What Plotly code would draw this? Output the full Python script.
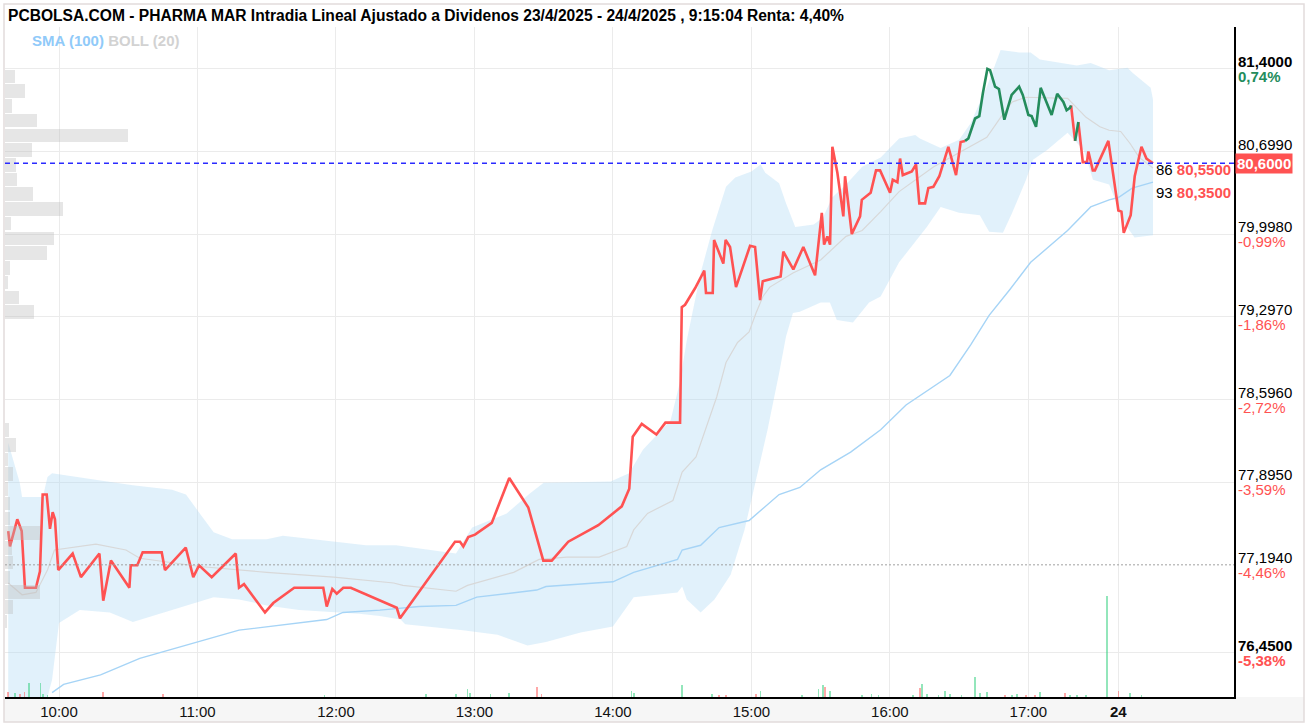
import plotly.graph_objects as go

# ---------------- data ----------------
PREV_CLOSE = 80.80
LAST_PRICE = 80.60
SESSION2_OFFSET = 519  # axis minutes at which the 24/4 session (09:00) starts

price_times = [
    "23 09:38:00", "23 09:38:45", "23 09:41:55", "23 09:43:50", "23 09:45:15", "23 09:50:00",
    "23 09:51:45", "23 09:52:55", "23 09:54:40", "23 09:56:05", "23 09:57:15", "23 09:58:15",
    "23 09:59:40", "23 10:05:55", "23 10:09:30", "23 10:17:30", "23 10:19:10", "23 10:22:30",
    "23 10:30:30", "23 10:31:05", "23 10:33:55", "23 10:36:15", "23 10:44:30", "23 10:45:55",
    "23 10:54:55", "23 10:58:10", "23 11:00:40", "23 11:06:10", "23 11:16:35", "23 11:18:00",
    "23 11:20:10", "23 11:29:15", "23 11:32:50", "23 11:41:55", "23 11:54:30", "23 11:56:00",
    "23 11:58:25", "23 12:00:20", "23 12:03:10", "23 12:06:25", "23 12:26:20", "23 12:27:45",
    "23 12:51:35", "23 12:53:45", "23 12:55:10", "23 12:57:20", "23 13:00:15", "23 13:07:30",
    "23 13:15:05", "23 13:23:20", "23 13:29:50", "23 13:33:30", "23 13:40:40", "23 13:53:40",
    "23 14:03:50", "23 14:07:05", "23 14:08:35", "23 14:12:30", "23 14:18:50", "23 14:22:45",
    "23 14:29:05", "23 14:29:50", "23 14:31:15", "23 14:35:35", "23 14:39:35", "23 14:40:20",
    "23 14:43:15", "23 14:43:50", "23 14:47:50", "23 14:48:50", "23 14:50:45", "23 14:53:20",
    "23 14:59:25", "23 15:01:35", "23 15:03:45", "23 15:04:55", "23 15:12:40", "23 15:13:50",
    "23 15:18:10", "23 15:22:30", "23 15:27:35", "23 15:30:30", "23 15:31:30", "23 15:32:55",
    "23 15:34:05", "23 15:35:05", "23 15:37:15", "23 15:39:50", "23 15:40:35", "23 15:43:30",
    "23 15:47:05", "23 15:47:50", "23 15:51:40", "23 15:54:00", "23 15:55:45", "23 16:00:05",
    "23 16:01:15", "23 16:03:15", "23 16:04:25", "23 16:05:35", "23 16:09:30", "23 16:11:20",
    "23 16:12:45", "23 16:15:15", "23 16:16:40", "23 16:18:50", "23 16:21:25", "23 16:25:20",
    "23 16:28:40", "23 16:30:40", "23 16:32:35", "23 16:34:00", "23 16:36:55", "23 16:38:45",
    "23 16:40:15", "23 16:42:15", "23 16:43:25", "23 16:45:35", "23 16:47:15", "23 16:49:35",
    "23 16:52:45", "23 16:56:00", "23 16:57:35", "23 17:00:00", "23 17:01:25", "23 17:03:20",
    "23 17:05:20", "23 17:07:15", "23 17:10:05", "23 17:12:30", "23 17:15:10", "23 17:16:35",
    "23 17:18:00", "23 17:18:30", "23 17:20:15", "23 17:21:40", "23 17:23:35", "23 17:25:25",
    "23 17:26:00", "23 17:27:55", "23 17:28:50", "23 17:34:40",
    "24 09:00:00", "24 09:01:20", "24 09:02:20", "24 09:05:20", "24 09:07:05", "24 09:10:00",
    "24 09:12:10", "24 09:15:00",
]
price_values = [
    77.48, 77.35, 77.58, 77.48, 77.00, 77.00,
    77.14, 77.79, 77.79, 77.50, 77.64, 77.58,
    77.15, 77.29, 77.09, 77.29, 76.89, 77.23,
    77.00, 77.19, 77.19, 77.30, 77.30, 77.15,
    77.34, 77.09, 77.19, 77.09, 77.29, 77.00,
    77.03, 76.79, 76.87, 77.00, 77.00, 76.84,
    76.99, 76.95, 77.00, 77.00, 76.83, 76.74,
    77.39, 77.39, 77.35, 77.43, 77.45, 77.55,
    77.93, 77.68, 77.23, 77.23, 77.39, 77.53,
    77.69, 77.84, 78.28, 78.39, 78.30, 78.40,
    78.40, 79.38, 79.40, 79.54, 79.69, 79.50,
    79.50, 79.95, 79.75, 79.95, 79.89, 79.55,
    79.90, 79.89, 79.44, 79.60, 79.64, 79.85,
    79.70, 79.89, 79.65, 80.18, 79.91, 79.98,
    79.91, 80.74, 80.52, 80.15, 80.49, 80.00,
    80.15, 80.29, 80.35, 80.54, 80.54, 80.35,
    80.46, 80.44, 80.64, 80.50, 80.53, 80.59,
    80.26, 80.26, 80.39, 80.40, 80.49, 80.74,
    80.50, 80.78, 80.79, 80.81, 80.98, 81.00,
    81.19, 81.40, 81.39, 81.25, 81.23, 80.97,
    81.18, 81.25, 81.18, 81.01, 81.00, 80.91,
    81.24, 81.15, 81.01, 81.19, 81.12, 81.05,
    81.07, 81.09, 80.79, 80.95, 80.61, 80.61,
    80.70, 80.54, 80.54, 80.79,
    80.20, 80.19, 80.01, 80.16, 80.49, 80.74,
    80.64, 80.60,
]

boll_upper_times = [
    "23 09:38", "23 09:43", "23 09:44", "23 09:53", "23 09:55", "23 09:57", "23 10:18", "23 10:32",
    "23 10:49", "23 10:55", "23 11:01", "23 11:07", "23 11:15", "23 11:30", "23 11:37", "23 11:59",
    "23 12:13", "23 12:26", "23 12:48", "23 12:52", "23 12:59", "23 13:14", "23 13:24", "23 13:30",
    "23 13:59", "23 14:07", "23 14:13", "23 14:25", "23 14:29", "23 14:32", "23 14:38", "23 14:43",
    "23 14:49", "23 14:53", "23 15:00", "23 15:04", "23 15:06", "23 15:12", "23 15:15", "23 15:19",
    "23 15:27", "23 15:31", "23 15:35", "23 15:41", "23 15:48", "23 15:56", "23 16:04", "23 16:11",
    "23 16:13", "23 16:22", "23 16:30", "23 16:35", "23 16:42", "23 16:48", "23 16:56", "23 17:01",
    "23 17:05", "23 17:21", "23 17:27", "23 17:35", "24 09:04", "24 09:06", "24 09:14", "24 09:15",
]
boll_upper = [
    78.23, 77.89, 77.77, 77.77, 77.94, 77.97, 77.91, 77.87,
    77.83, 77.79, 77.63, 77.47, 77.41, 77.41, 77.44, 77.39,
    77.36, 77.36, 77.30, 77.29, 77.51, 77.63, 77.80, 77.89,
    77.90, 77.97, 78.17, 78.42, 78.74, 79.10, 79.67, 80.03,
    80.40, 80.48, 80.53, 80.59, 80.52, 80.43, 80.26, 80.06,
    80.08, 80.14, 80.31, 80.42, 80.57, 80.65, 80.81, 80.84,
    80.81, 80.73, 80.80, 80.94, 81.25, 81.56, 81.54, 81.54,
    81.48, 81.43, 81.45, 81.39, 81.41, 81.37, 81.24, 81.14,
]

boll_lower_times = [
    "23 09:38", "23 09:54", "23 09:57", "23 10:00", "23 10:09", "23 10:22", "23 10:32", "23 10:44",
    "23 10:55", "23 11:07", "23 11:18", "23 11:30", "23 11:44", "23 11:59", "23 12:10", "23 12:19",
    "23 12:28", "23 12:30", "23 12:55", "23 13:10", "23 13:23", "23 13:31", "23 13:46", "23 14:00",
    "23 14:09", "23 14:28", "23 14:30", "23 14:32", "23 14:38", "23 14:44", "23 14:51", "23 14:57",
    "23 15:02", "23 15:07", "23 15:12", "23 15:15", "23 15:18", "23 15:21", "23 15:30", "23 15:34",
    "23 15:37", "23 15:44", "23 15:51", "23 15:56", "23 16:04", "23 16:16", "23 16:22", "23 16:30",
    "23 16:39", "23 16:43", "23 16:49", "23 16:53", "23 16:59", "23 17:02", "23 17:08", "23 17:17",
    "23 17:24", "23 17:28", "23 17:35", "24 09:03", "24 09:07", "24 09:15",
]
boll_lower = [
    76.00, 76.00, 76.22, 76.70, 76.81, 76.79, 76.71, 76.78,
    76.85, 76.92, 76.90, 76.85, 76.81, 76.79, 76.78, 76.76,
    76.73, 76.69, 76.64, 76.60, 76.51, 76.54, 76.62, 76.67,
    76.92, 76.96, 77.01, 76.90, 76.79, 76.90, 77.11, 77.49,
    77.91, 78.34, 78.82, 79.13, 79.33, 79.34, 79.42, 79.42,
    79.27, 79.25, 79.42, 79.47, 79.76, 80.06, 80.23, 80.18,
    80.16, 80.02, 80.01, 80.18, 80.46, 80.63, 80.71, 80.86,
    80.71, 80.46, 80.42, 80.08, 79.97, 79.99,
]

boll_mid_times = [
    "23 09:38", "23 09:44", "23 09:50", "23 09:55", "23 09:58", "23 10:16", "23 10:29", "23 10:35",
    "23 11:01", "23 11:30", "23 11:59", "23 12:25", "23 12:29", "23 12:52", "23 12:57", "23 13:17",
    "23 13:28", "23 13:40", "23 13:54", "23 14:06", "23 14:09", "23 14:15", "23 14:26", "23 14:30",
    "23 14:36", "23 14:45", "23 14:49", "23 14:54", "23 14:59", "23 15:02", "23 15:05", "23 15:08",
    "23 15:18", "23 15:30", "23 15:41", "23 15:48", "23 15:56", "23 16:04", "23 16:19", "23 16:30",
    "23 16:42", "23 16:48", "23 16:53", "23 16:59", "23 17:17", "23 17:25", "23 17:31", "23 17:35",
    "24 09:01", "24 09:05", "24 09:09", "24 09:15",
]
boll_mid = [
    77.04, 76.94, 76.96, 77.15, 77.32, 77.37, 77.32, 77.25,
    77.18, 77.13, 77.09, 77.04, 77.02, 76.97, 77.02, 77.13,
    77.24, 77.26, 77.26, 77.35, 77.49, 77.63, 77.74, 77.98,
    78.11, 78.62, 78.91, 79.08, 79.17, 79.33, 79.47, 79.55,
    79.67, 79.78, 79.98, 80.03, 80.19, 80.36, 80.57, 80.69,
    80.82, 80.99, 81.12, 81.16, 81.15, 80.99, 80.91, 80.88,
    80.87, 80.77, 80.65, 80.56,
]

sma_times = [
    "23 09:57", "23 10:02", "23 10:18", "23 10:35", "23 11:18", "23 11:56", "23 12:03", "23 12:19",
    "23 12:36", "23 12:52", "23 13:01", "23 13:27", "23 13:31", "23 14:00", "23 14:09", "23 14:28",
    "23 14:30", "23 14:38", "23 14:46", "23 14:59", "23 15:12", "23 15:21", "23 15:30", "23 15:43",
    "23 15:56", "23 16:07", "23 16:26", "23 16:35", "23 16:43", "23 16:52", "23 17:01", "23 17:17",
    "23 17:27", "23 17:35", "24 09:00", "24 09:06", "24 09:15",
]
sma_100 = [
    76.11, 76.18, 76.26, 76.40, 76.64, 76.73, 76.79, 76.81,
    76.84, 76.85, 76.92, 76.98, 77.01, 77.05, 77.13, 77.24,
    77.32, 77.36, 77.51, 77.57, 77.79, 77.85, 78.00, 78.15,
    78.34, 78.55, 78.80, 79.06, 79.31, 79.53, 79.76, 80.03,
    80.23, 80.29, 80.31, 80.39, 80.44,
]

volume_times = [
    "23 09:38", "23 09:41", "23 09:43", "23 09:45", "23 09:47", "23 09:52", "23 09:53", "23 09:55",
    "23 10:19", "23 10:45", "23 11:55", "23 12:39", "23 12:52", "23 12:57", "23 12:58", "23 13:07",
    "23 13:15", "23 13:27", "23 13:29", "23 14:08", "23 14:09", "23 14:30", "23 14:43", "23 14:46",
    "23 14:49", "23 15:02", "23 15:04", "23 15:22", "23 15:29", "23 15:31", "23 15:32", "23 15:34",
    "23 15:48", "23 15:52", "23 15:55", "23 16:10", "23 16:13", "23 16:14", "23 16:16", "23 16:21",
    "23 16:24", "23 16:26", "23 16:31", "23 16:37", "23 16:39", "23 16:42", "23 16:50", "23 16:53",
    "23 16:55", "23 16:59", "23 17:03", "23 17:05", "23 17:16", "23 17:18", "23 17:21", "23 17:25",
    "23 17:34", "24 09:00", "24 09:05", "24 09:10",
]
volume_values = [
    1000, 800, 600, 1000, 2800, 2800, 600, 400,
    1000, 600, 400, 600, 600, 1600, 800, 600,
    800, 2000, 600, 1200, 800, 2400, 600, 400,
    400, 600, 1200, 400, 1600, 2400, 2000, 1200,
    400, 600, 400, 400, 1800, 2600, 600, 400,
    1200, 600, 400, 4000, 800, 1000, 400, 400,
    600, 400, 400, 1000, 800, 400, 400, 400,
    20200, 1200, 800, 400,
]
volume_up = [
    False, True, False, False, True, True, True, True,
    False, False, True, True, True, True, True, True,
    True, False, False, True, True, True, True, False,
    False, False, True, True, True, True, False, True,
    True, True, True, True, False, True, True, True,
    True, True, True, True, True, True, False, True,
    True, False, False, True, False, True, True, True,
    True, False, True, True,
]

profile_prices = [
    81.3375, 81.2125, 81.0875, 80.9625, 80.8375, 80.7125, 80.5875, 80.4625, 80.3375,
    80.2125, 80.0875, 79.9625, 79.8375, 79.7125, 79.5875, 79.4625, 79.3375,
    78.3375, 78.2125, 78.0875, 77.9625, 77.8375, 77.7125, 77.5875, 77.4625, 77.3375,
    77.2125, 77.0875, 76.9625, 76.8375, 76.7125,
]
profile_volume = [
    10, 20, 7, 32, 123, 27, 11, 12, 28,
    58, 6, 49, 42, 5, 3, 14, 29,
    4, 11, 3, 8, 3, 5, 5, 35, 7,
    8, 5, 35, 8, 2,
]

grid_prices = [81.4, 80.699, 79.998, 79.297, 78.596, 77.895, 76.45]
label_prices = [81.4, 80.699, 79.998, 79.297, 78.596, 77.895, 77.194, 76.45]
label_texts = ["81,4000", "80,6990", "79,9980", "79,2970", "78,5960", "77,8950", "77,1940", "76,4500"]
label_pcts = ["0,74%", "-0,13%", "-0,99%", "-1,86%", "-2,72%", "-3,59%", "-4,46%", "-5,38%"]
REF_LINE = 77.194

book_sizes = ["86", "93"]
book_prices = [80.55, 80.35]
book_texts = ["80,5500", "80,3500"]

hour_ticks = ["23 10:00", "23 11:00", "23 12:00", "23 13:00", "23 14:00", "23 15:00",
              "23 16:00", "23 17:00", "24 09:00"]
hour_labels = ["10:00", "11:00", "12:00", "13:00", "14:00", "15:00", "16:00", "17:00", "<b>24</b>"]

TITLE = ("PCBOLSA.COM - PHARMA MAR Intradia Lineal Ajustado a Dividenos 23/4/2025 - 24/4/2025 , "
         "9:15:04 Renta: 4,40%")

# ---------------- helpers ----------------
def pos(ts):
    day, hms = ts.split()
    parts = [int(v) for v in hms.split(":")]
    s = parts[2] if len(parts) > 2 else 0
    m = (parts[0] - 9) * 60 + parts[1] + s / 60.0
    return m + (SESSION2_OFFSET if day == "24" else 0)


RED = "#ff5252"
GREEN = "#248c5c"
FONT = "Arial, Liberation Sans, sans-serif"

px = [pos(t) for t in price_times]

# split price line into up / down coloured runs
runs = {"g": ([], []), "r": ([], [])}
cur = None
for i in range(1, len(px)):
    c = "g" if price_values[i] > PREV_CLOSE else "r"
    xs, ys = runs[c]
    if c != cur:
        if xs:
            xs.append(None)
            ys.append(None)
        xs.extend([px[i - 1], px[i]])
        ys.extend([price_values[i - 1], price_values[i]])
        cur = c
    else:
        xs.append(px[i])
        ys.append(price_values[i])

fig = go.Figure()

# Bollinger band fill
bx = [pos(t) for t in boll_upper_times] + [pos(t) for t in boll_lower_times][::-1]
by = boll_upper + boll_lower[::-1]
fig.add_trace(go.Scatter(x=bx, y=by, fill="toself", fillcolor="rgba(173,216,245,0.37)",
                         line=dict(width=0), mode="lines", hoverinfo="skip"))
fig.add_trace(go.Scatter(x=[pos(t) for t in boll_mid_times], y=boll_mid, mode="lines",
                         line=dict(color="#d8d8d8", width=1.2)))
fig.add_trace(go.Scatter(x=[pos(t) for t in sma_times], y=sma_100, mode="lines",
                         line=dict(color="#a6d4f6", width=1.4)))

fig.add_trace(go.Scatter(x=runs["r"][0], y=runs["r"][1], mode="lines",
                         line=dict(color=RED, width=2.6), connectgaps=False))
fig.add_trace(go.Scatter(x=runs["g"][0], y=runs["g"][1], mode="lines",
                         line=dict(color=GREEN, width=2.6), connectgaps=False))

# volume profile (horizontal bars)
fig.add_trace(go.Bar(x=profile_volume, y=profile_prices, orientation="h", width=0.115,
                     marker=dict(color="rgba(185,185,185,0.36)", line=dict(width=0)),
                     xaxis="x2", yaxis="y"))

# volume bars
fig.add_trace(go.Bar(x=[pos(t) for t in volume_times], y=volume_values, width=0.7,
                     marker=dict(color=["rgba(40,205,120,0.5)" if u else "rgba(255,82,82,0.5)"
                                        for u in volume_up], line=dict(width=0)),
                     xaxis="x", yaxis="y3"))

x_range = [36.6, 569.1]
y_range = [76.073, 81.756]

fig.update_layout(
    width=1309, height=728,
    margin=dict(l=5, r=75, t=27, b=31),
    paper_bgcolor="white", plot_bgcolor="white",
    showlegend=False, bargap=0,
    font=dict(family=FONT, size=15, color="#111"),
    xaxis=dict(range=x_range, tickvals=[pos(t) for t in hour_ticks], ticktext=hour_labels,
               showgrid=True, gridcolor="#ebebeb", gridwidth=1, zeroline=False,
               showline=True, linecolor="black", linewidth=1.5, ticks="",
               tickfont=dict(size=15, color="#111", family=FONT)),
    xaxis2=dict(overlaying="x", range=[0, max(profile_volume) * 10], visible=False,
                anchor="y"),
    yaxis=dict(range=y_range, side="right", tickvals=grid_prices, showticklabels=False,
               showgrid=True, gridcolor="#ebebeb", gridwidth=1, zeroline=False,
               showline=True, linecolor="black", linewidth=1.5, ticks=""),
    yaxis3=dict(overlaying="y", range=[0, max(volume_values) * 670 / 101], visible=False,
                anchor="x"),
)

shapes = []
# tick-label band and outer frame
shapes.append(dict(type="rect", xref="paper", yref="paper", x0=-1 / 1229, x1=1299 / 1229,
                   y0=-25 / 670, y1=0, fillcolor="#f6f6f6", line=dict(width=0), layer="below"))
shapes.append(dict(type="rect", xref="paper", yref="paper", x0=-1 / 1229, x1=1299 / 1229,
                   y0=-25 / 670, y1=693 / 670, line=dict(color="#e2dcdc", width=1.5),
                   fillcolor="rgba(0,0,0,0)"))
# reference dotted line and last-price dashed line
shapes.append(dict(type="line", xref="paper", yref="y", x0=0, x1=1, y0=REF_LINE, y1=REF_LINE,
                   line=dict(color="#a0a0a0", width=1, dash="2px,2px")))
shapes.append(dict(type="line", xref="paper", yref="y", x0=0, x1=1, y0=LAST_PRICE, y1=LAST_PRICE,
                   line=dict(color="#2b2bff", width=1.5, dash="5px,4px")))
fig.update_layout(shapes=shapes)

ann = []
ann.append(dict(xref="paper", yref="paper", x=0, y=1, xanchor="left", yanchor="middle",
                xshift=1, yshift=12, showarrow=False, text="<b>" + TITLE + "</b>",
                font=dict(size=15.6, color="black", family=FONT)))
ann.append(dict(xref="paper", yref="paper", x=25 / 1229, y=1, xanchor="left", yanchor="middle",
                yshift=-13, showarrow=False,
                text="<b><span style='color:#90caf9'>SMA (100)</span> "
                     "<span style='color:#d2d2d2'>BOLL (20)</span></b>",
                font=dict(size=15, family=FONT)))

n = len(label_prices)
for i, (p, t, pc) in enumerate(zip(label_prices, label_texts, label_pcts)):
    bold = i == 0 or i == n - 1
    pc_color = GREEN if i == 0 else RED
    ann.append(dict(xref="paper", yref="y", x=1, y=p, xanchor="left", yanchor="middle",
                    xshift=2, yshift=7.5, showarrow=False,
                    text=("<b>%s</b>" % t) if bold else t,
                    font=dict(size=15, color="black", family=FONT)))
    ann.append(dict(xref="paper", yref="y", x=1, y=p, xanchor="left", yanchor="middle",
                    xshift=2, yshift=-7.5, showarrow=False,
                    text=("<b>%s</b>" % pc) if bold else pc,
                    font=dict(size=15, color=pc_color, family=FONT)))

# order book labels
for sz, bp, bt in zip(book_sizes, book_prices, book_texts):
    ann.append(dict(xref="paper", yref="y", x=1, y=bp, xanchor="right", yanchor="middle",
                    xshift=-1, showarrow=False,
                    text="%s <b><span style='color:%s'>%s</span></b>" % (sz, RED, bt),
                    font=dict(size=15, color="black", family=FONT)))

# last price box (covers the -0,13% label, as in the original)
ann.append(dict(xref="paper", yref="y", x=1, y=LAST_PRICE, xanchor="left", yanchor="middle",
                xshift=1, showarrow=False, text="<b>80,6000</b>", bgcolor=RED,
                borderpad=1, font=dict(size=15, color="white", family=FONT)))

fig.update_layout(annotations=ann)

fig.write_html("out.html")
